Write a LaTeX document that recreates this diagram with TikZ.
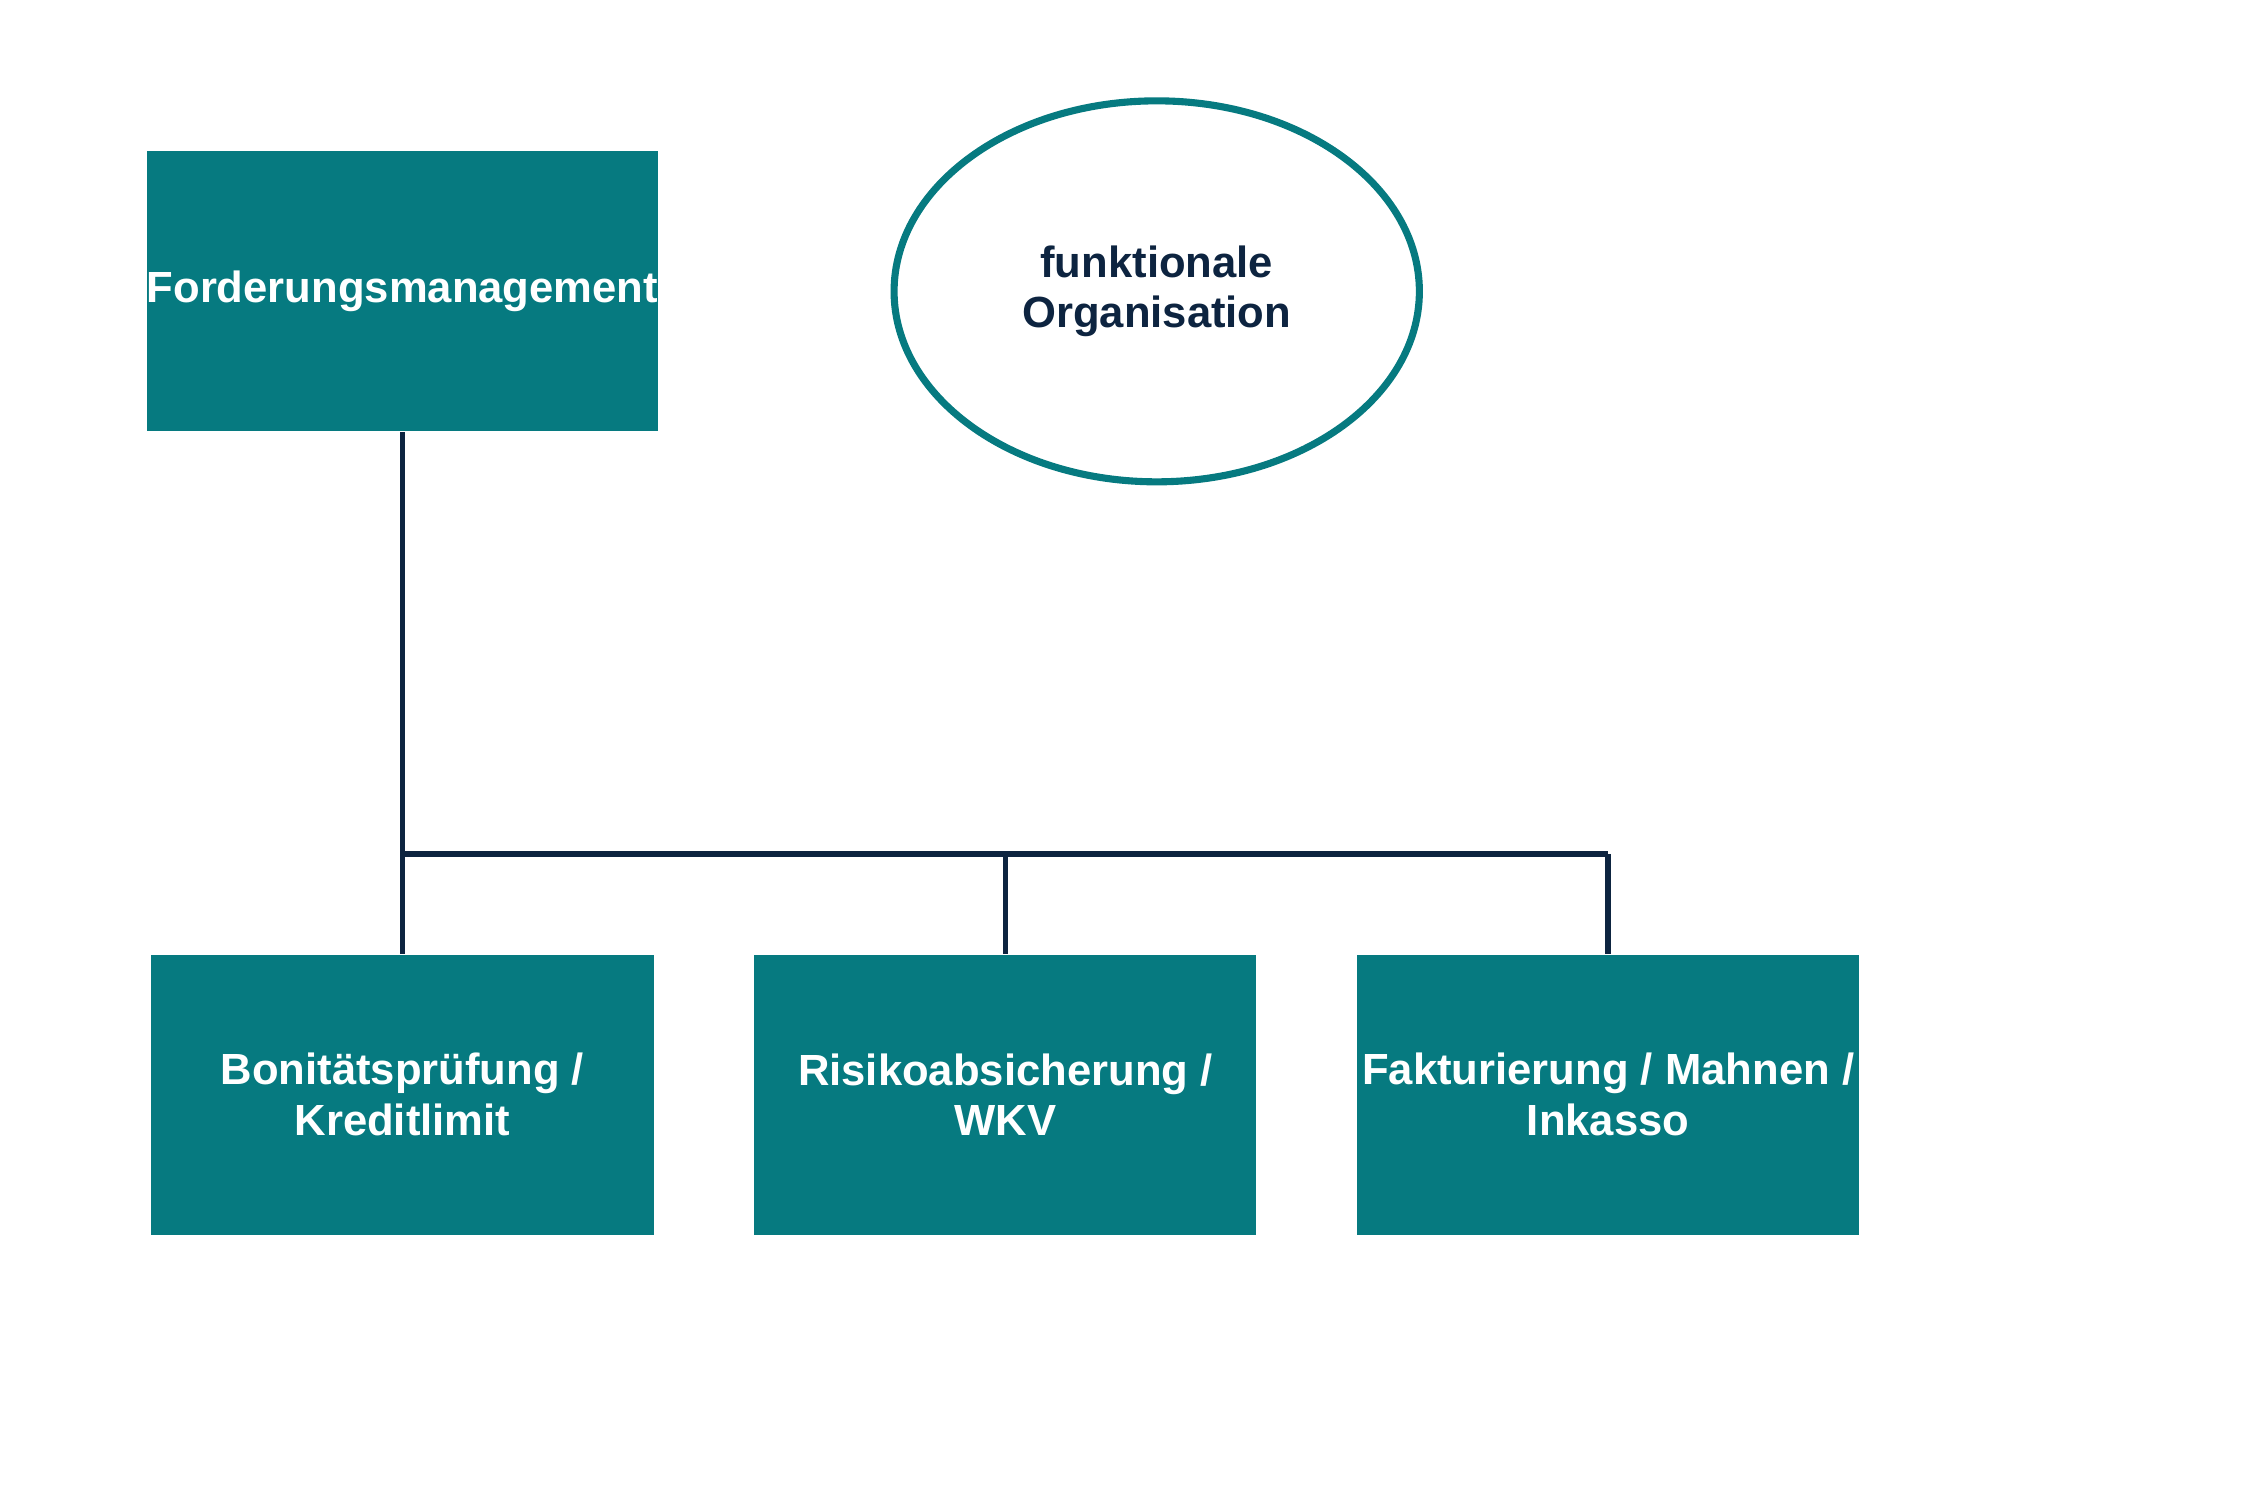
\documentclass[tikz,border=0pt]{standalone}
\usepackage{fontspec}
\setmainfont{Liberation Sans}
\usetikzlibrary{shapes.geometric}
\definecolor{teal1}{HTML}{067A80}
\definecolor{navy1}{HTML}{0D2440}
\begin{document}
\begin{tikzpicture}[x=0.01cm,y=-0.01cm,
  box/.style={fill=teal1,draw=none,minimum width=3.48cm,minimum height=1.94cm,text=white,font=\bfseries\fontsize{8.6}{10}\selectfont,align=center,inner sep=0pt},
  conn/.style={draw=navy1,line width=1.1pt}]
\useasboundingbox (0,0) rectangle (1560,1040);
\node[box] (top) at (279,202) {Forderungsmanagement};
\node[draw=teal1,line width=1.4pt,ellipse,minimum width=3.64cm,minimum height=2.64cm,inner sep=0pt,text=navy1,font=\bfseries\fontsize{8.6}{10}\selectfont,align=center] (ell) at (802,202) {funktionale\\Organisation};
\node[box] (b1) at (279,759) {Bonitätsprüfung /\\Kreditlimit};
\node[box] (b2) at (697,759) {Risikoabsicherung /\\WKV};
\node[box] (b3) at (1115,759) {Fakturierung / Mahnen /\\Inkasso};
\coordinate (j1) at (279,592);
\coordinate (j2) at (697,592);
\coordinate (j3) at (1115,592);
\draw[conn] (top.south) -- (b1.north);
\draw[conn] (j1) -- (j3);
\draw[conn] (j2) -- (b2.north);
\draw[conn] (j3) -- (b3.north);
\end{tikzpicture}
\end{document}
